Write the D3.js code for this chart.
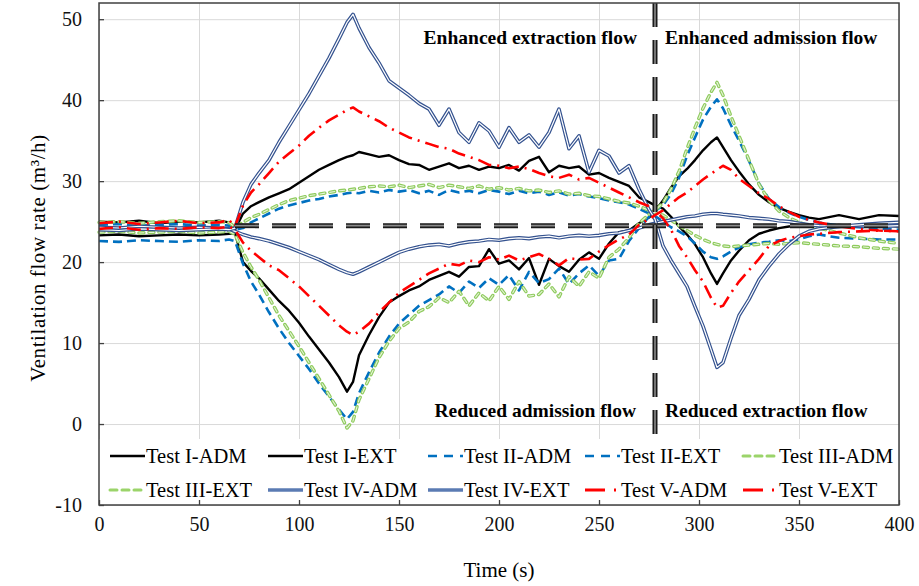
<!DOCTYPE html>
<html>
<head>
  <meta charset="utf-8">
  <script src="https://cdn.jsdelivr.net/npm/d3@7/dist/d3.min.js"></script>
  <style>
    body { margin: 0; background: #fff; }
    svg { display: block; font-family: "Liberation Serif", "Times New Roman", serif; }
  </style>
</head>
<body>
  <svg id="chart" width="919" height="586"></svg>

  <script>
  // sample times (s), shared by every series
  const time = [
    0, 10, 20, 30, 40, 50, 60, 65,
    68, 72, 76, 80, 85, 90, 95, 100, 105, 110, 115, 120, 124, 127, 130,
    135, 140, 145, 150, 155, 160, 165, 170, 175, 180, 185, 190, 195, 200, 205,
    210, 215, 220, 225, 230, 235, 240, 245, 250, 255, 260, 265, 270, 275, 278,
    282, 286, 290, 294, 298, 302, 306, 309, 312, 316, 320, 325, 330, 335, 340,
    345, 350, 355, 360, 370, 380, 390, 400
  ];

  const testIAdm = [
    23.3, 23.4, 23.2, 23.3, 23.4, 23.3, 23.4, 23.5,
    23.6, 20.0, 18.9, 18.0, 16.6, 15.2, 14.0, 12.5, 10.8, 9.2, 7.6, 5.8, 4.0, 5.2, 8.5,
    11.0, 13.2, 15.0, 15.8, 16.5, 17.0, 17.8, 18.3, 18.8, 18.2, 19.4, 19.5, 21.6, 19.8, 20.2,
    19.1, 20.5, 17.2, 20.4, 19.5, 18.8, 20.3, 21.2, 20.4, 22.3, 23.7, 23.9, 24.8, 25.5, 26.3,
    27.6, 29.2, 30.6, 31.5, 32.6, 33.8, 34.8, 35.4, 34.2, 32.6, 31.2, 29.6, 28.3, 27.4, 26.7,
    26.2, 25.8, 25.5, 25.3, 25.8, 25.3, 25.8, 25.7
  ];
  const testIExt = [
    25.0, 24.9, 25.1, 24.8, 25.0, 24.9, 25.1, 24.9,
    24.0, 26.0, 26.9, 27.4, 28.0, 28.5, 29.0, 29.8, 30.6, 31.4, 32.0, 32.6, 33.0, 33.2, 33.6,
    33.3, 33.0, 33.2, 32.6, 32.1, 32.0, 31.4, 31.8, 32.2, 31.6, 31.9, 31.4, 31.8, 31.6, 32.0,
    31.3, 32.5, 33.0, 31.1, 31.9, 31.6, 31.8, 30.8, 31.0, 30.4, 29.9, 29.4, 28.0, 27.4, 27.0,
    26.6, 25.6, 24.4, 23.4, 22.2, 20.6, 18.6, 17.3, 18.6, 20.2, 21.4, 22.7, 23.5, 23.9, 24.2,
    24.4, 24.5, 24.4, 24.5, 24.6, 24.4, 24.6, 24.4
  ];
  const testIIAdm = [
    22.6, 22.5, 22.7, 22.6, 22.5, 22.7, 22.6, 22.8,
    22.6, 19.8, 17.6, 16.0, 13.8, 11.8, 10.0, 8.4, 6.8, 5.0, 3.4, 1.8, 0.6, 1.5, 3.8,
    6.4, 8.8, 10.8, 12.4, 13.5, 14.6, 15.3, 16.0, 17.0, 16.2, 17.6, 16.8, 18.0, 17.2, 18.4,
    16.5, 18.8, 17.4, 17.9, 19.2, 17.3, 18.6, 19.6, 18.3, 20.2, 20.4, 22.6, 24.2, 25.6, 26.3,
    27.0, 28.4, 30.4, 33.1, 35.4, 37.6, 39.2, 40.1, 39.0, 36.9, 35.0, 32.5, 29.7, 27.8, 26.8,
    26.1, 25.6, 25.2, 24.9, 24.5, 24.3, 24.1, 24.0
  ];
  const testIIExt = [
    24.6, 24.7, 24.5, 24.6, 24.7, 24.5, 24.6, 24.5,
    24.0, 24.2, 24.9, 25.4, 26.0, 26.6, 27.0, 27.3, 27.6, 27.8, 28.1, 28.3, 28.5, 28.6, 28.5,
    28.8, 28.6, 28.9, 28.7, 28.9, 28.5, 28.8, 28.3, 28.9, 28.6, 28.8, 28.5, 28.9, 28.7, 28.4,
    28.8, 28.5, 28.7, 28.3, 28.6, 28.2, 28.4, 28.1, 27.9, 27.6, 27.4, 27.1, 26.6, 26.0, 25.7,
    25.0, 24.3, 23.8, 23.2, 22.3, 21.3, 20.6, 20.4, 20.7, 21.3, 21.8, 22.2, 22.4, 22.5, 22.7,
    22.6, 22.8, 23.2, 23.4, 23.0, 22.9, 22.8, 22.8
  ];
  const testIIIAdm = [
    23.7, 23.8, 23.6, 23.7, 23.8, 23.6, 23.7, 23.8,
    23.4, 21.2, 19.4, 17.8, 15.6, 13.4, 11.5, 9.6, 7.6, 5.6, 3.6, 1.6, -0.5, 0.4, 3.0,
    5.6, 8.2, 10.2, 11.8, 12.6, 13.9, 14.5, 15.6, 15.0, 16.4, 14.6, 16.2, 15.2, 17.0, 15.4,
    17.6, 15.8, 16.0, 17.3, 15.7, 18.2, 17.0, 18.8, 18.0, 20.6, 21.6, 23.0, 24.8, 25.9, 26.4,
    27.3, 29.0, 31.2, 34.0, 36.6, 39.0, 41.0, 42.2, 40.6, 38.0, 35.6, 32.6, 29.6, 27.6, 26.3,
    25.5, 24.9, 24.5, 24.2, 23.6, 23.0, 22.6, 22.3
  ];
  const testIIIExt = [
    24.9, 25.0, 24.8, 25.0, 25.1, 24.9, 25.0, 24.9,
    24.3, 24.9, 25.5, 25.9, 26.5, 27.1, 27.6, 27.9, 28.2, 28.4, 28.6, 28.8, 28.9, 29.0, 29.1,
    29.3, 29.4, 29.3, 29.5, 29.2, 29.4, 29.6, 29.2, 29.5, 29.3, 29.1, 29.4, 29.0, 29.2, 28.9,
    29.1, 28.8, 28.9, 28.6, 28.8, 28.4, 28.5, 28.2, 28.1, 27.8, 27.5, 27.3, 26.9, 26.4, 26.1,
    25.8, 25.2, 24.5, 23.9, 23.3, 22.8, 22.4, 22.2, 22.0, 21.9, 22.0, 22.1, 22.2, 22.3, 22.2,
    22.3, 22.4, 22.3, 22.2, 22.0, 21.9, 21.7, 21.6
  ];
  const testIVAdm = [
    24.3, 24.2, 24.4, 24.3, 24.2, 24.3, 24.2, 24.1,
    23.8, 23.4, 23.1, 22.9, 22.6, 22.2, 21.8, 21.3, 20.8, 20.3, 19.7, 19.1, 18.7, 18.5, 18.8,
    19.4, 20.0, 20.6, 21.2, 21.6, 21.9, 22.1, 22.2, 22.0, 22.3, 22.5, 22.6, 22.8, 22.7, 22.9,
    23.0, 22.9, 23.1, 23.2, 23.0, 23.2, 23.3, 23.2, 23.3, 23.5, 23.6, 23.9, 24.2, 24.6, 24.8,
    25.0, 25.2, 25.4, 25.6, 25.7, 25.9, 26.0, 26.0, 25.9, 25.8, 25.7, 25.5, 25.4, 25.3, 25.1,
    25.0, 24.8, 24.6, 24.5, 24.4, 24.5, 24.4, 24.5
  ];
  const testIVExt = [
    24.0, 23.9, 24.1, 24.0, 23.9, 24.0, 24.1, 24.0,
    24.2, 27.4, 29.6, 31.0, 32.6, 34.8, 36.8, 38.8, 40.8, 43.0, 45.2, 47.6, 49.6, 50.6, 48.9,
    46.5, 44.6, 42.4, 41.5, 40.6, 39.6, 38.9, 36.9, 38.9, 36.0, 34.8, 37.2, 36.2, 34.2, 36.6,
    34.8, 35.7, 34.2, 36.0, 38.9, 34.0, 35.6, 31.1, 33.8, 33.1, 31.0, 31.9, 29.0, 26.5, 25.3,
    22.0, 20.2, 18.6, 17.0, 14.5, 12.1, 9.2, 7.0, 7.6, 10.6, 13.4, 15.4, 17.8, 19.5, 21.0,
    22.2, 23.2, 23.8, 24.1, 24.4, 24.6, 24.8, 24.9
  ];
  const testVAdm = [
    24.1, 24.3, 24.0, 24.2, 24.1, 24.3, 24.2, 24.4,
    24.0, 22.4, 21.4, 20.6, 19.6, 19.0, 18.0, 17.0, 15.8, 14.6, 13.4, 12.2, 11.4, 11.0, 11.4,
    12.4, 13.8, 15.0, 16.2, 17.0, 17.8, 18.6, 19.2, 19.8, 19.6, 20.2, 20.0, 20.6, 20.3, 20.8,
    20.2, 20.6, 21.0, 20.4, 19.6, 20.5, 20.3, 20.4, 21.3, 22.1, 22.8, 23.4, 24.6, 25.3, 25.8,
    26.4, 27.2, 28.0, 28.6, 29.4, 30.2, 30.9, 31.4, 31.9, 31.4, 30.3, 29.4, 28.5, 27.8, 26.9,
    26.2, 25.6, 25.2, 24.9, 24.4, 24.1, 23.9, 23.8
  ];
  const testVExt = [
    24.8, 25.0, 24.7, 24.9, 25.1, 24.8, 24.9, 25.2,
    24.4, 27.0, 28.6, 29.6, 31.0, 32.4, 33.4, 34.4, 35.6, 36.6, 37.5, 38.2, 38.8, 39.1, 38.6,
    38.0, 37.4, 36.6, 36.0, 35.4, 35.0, 34.6, 34.2, 34.0, 33.4, 33.0, 32.6, 32.0, 31.9, 31.6,
    31.8, 31.5, 31.0, 30.6, 30.4, 30.8, 30.2, 30.4, 29.8, 29.2, 28.6, 28.0, 27.4, 26.9, 26.4,
    25.4, 24.0, 22.0, 20.6, 19.0, 17.6, 15.6, 14.4, 14.6, 16.2, 17.6, 19.0, 20.4, 22.0, 22.6,
    23.0, 23.2, 23.4, 23.5, 23.7, 23.8, 23.9, 23.8
  ];

  const xTicks = [0, 50, 100, 150, 200, 250, 300, 350, 400];
  const yTicks = [-10, 0, 10, 20, 30, 40, 50];

  // reference lines: set-point flow and the moment the fans were switched
  const setPoint = 24.5;
  const setPointStart = 68;
  const switchTime = 278;

  const series = [
    { name: 'Test I-ADM', test: 'I', values: testIAdm },
    { name: 'Test I-EXT', test: 'I', values: testIExt },
    { name: 'Test II-ADM', test: 'II', values: testIIAdm },
    { name: 'Test II-EXT', test: 'II', values: testIIExt },
    { name: 'Test III-ADM', test: 'III', values: testIIIAdm },
    { name: 'Test III-EXT', test: 'III', values: testIIIExt },
    { name: 'Test IV-ADM', test: 'IV', values: testIVAdm },
    { name: 'Test IV-EXT', test: 'IV', values: testIVExt },
    { name: 'Test V-ADM', test: 'V', values: testVAdm },
    { name: 'Test V-EXT', test: 'V', values: testVExt }
  ];

  // each test is drawn as one or more stacked strokes
  const styles = {
    I:   [{ stroke: '#000', width: 2.4 }],
    II:  [{ stroke: '#0070C0', width: 2.6, dash: '9,5' }],
    III: [{ stroke: '#8FCB5E', width: 3.4, dash: '5,5', cap: 'round' },
          { stroke: '#E6F4D8', width: 1.1, dash: '5,5', cap: 'round' }],
    IV:  [{ stroke: '#34528F', width: 3.6 },
          { stroke: '#fff', width: 1.2 }],
    V:   [{ stroke: '#FF0000', width: 2.6, dash: '14,6,2,6' }]
  };
  const legendStyles = {
    I:   [{ stroke: '#000', width: 2.4 }],
    II:  [{ stroke: '#0070C0', width: 2.6, dash: '9,7' }],
    III: [{ stroke: '#9BD46A', width: 3, dash: '7,5', cap: 'round' }],
    IV:  [{ stroke: '#5B7BB3', width: 3.4 }],
    V:   [{ stroke: '#FF0000', width: 2.8, dash: '20,9,2,9' }]
  };

  const svg = d3.select('#chart');
  const x = d3.scaleLinear().domain([0, 400]).range([99, 899]);
  const y = d3.scaleLinear().domain([-10, 52]).range([505, 3]);

  // gridlines
  svg.append('g')
    .attr('transform', `translate(0,${y(-10)})`)
    .call(d3.axisBottom(x).tickValues(xTicks).tickSize(-(y(-10) - y(52))).tickFormat(''))
    .call(g => g.select('.domain').remove())
    .selectAll('line').attr('stroke', '#d9d9d9');
  svg.append('g')
    .attr('transform', `translate(${x(0)},0)`)
    .call(d3.axisLeft(y).tickValues(yTicks).tickSize(-(x(400) - x(0))).tickFormat(''))
    .call(g => g.select('.domain').remove())
    .selectAll('line').attr('stroke', '#d9d9d9');

  function strokePath(g, data, line, layers) {
    layers.forEach(l => {
      g.append('path')
        .datum(data)
        .attr('d', line)
        .attr('fill', 'none')
        .attr('stroke', l.stroke)
        .attr('stroke-width', l.width)
        .attr('stroke-dasharray', l.dash || null)
        .attr('stroke-linecap', l.cap || 'butt')
        .attr('stroke-linejoin', 'round');
    });
  }

  const plot = svg.append('g');
  const line = d3.line()
    .x((d, i) => x(time[i]))
    .y(d => y(d));

  series.forEach(s => strokePath(plot, s.values, line, styles[s.test]));

  // dashed reference lines
  const refLayers = [
    { stroke: '#1a1a1a', width: 5, dash: '24,13' },
    { stroke: '#8a8a8a', width: 1.6, dash: '24,13' }
  ];
  const xy = d3.line().x(d => x(d[0])).y(d => y(d[1]));
  strokePath(plot, [[setPointStart, setPoint], [400, setPoint]], xy, refLayers);
  strokePath(plot, [[switchTime, 52], [switchTime, -10]], xy, refLayers);

  // region labels
  const notes = svg.append('g')
    .attr('font-weight', 'bold')
    .attr('font-size', 19.5);
  notes.append('text').attr('x', 637).attr('y', 44).attr('text-anchor', 'end').text('Enhanced extraction flow');
  notes.append('text').attr('x', 665).attr('y', 44).text('Enhanced admission flow');
  notes.append('text').attr('x', 636).attr('y', 417).attr('text-anchor', 'end').text('Reduced admission flow');
  notes.append('text').attr('x', 665).attr('y', 417).text('Reduced extraction flow');

  // legend, inside the plot at the bottom
  const legend = svg.append('g');
  legend.append('rect')
    .attr('x', x(0)).attr('y', 439)
    .attr('width', x(400) - x(0)).attr('height', y(-10) - 439)
    .attr('fill', '#fff');
  const colX = [110, 268, 428, 585, 743];
  const rowY = [456, 490];
  series.forEach((s, i) => {
    const cx = colX[i % 5];
    const cy = rowY[Math.floor(i / 5)];
    const item = legend.append('g');
    strokePath(item, [[cx, cy], [cx + 35, cy]], d3.line(), legendStyles[s.test]);
    item.append('text')
      .attr('x', cx + 36).attr('y', cy + 7)
      .attr('font-size', 20.5)
      .text(s.name);
  });

  // axes
  const xAxis = svg.append('g')
    .attr('transform', `translate(0,${y(-10)})`)
    .call(d3.axisBottom(x).tickValues(xTicks).tickSize(-5).tickPadding(12).tickFormat(d => String(d)));
  const yAxis = svg.append('g')
    .attr('transform', `translate(${x(0)},0)`)
    .call(d3.axisLeft(y).tickValues(yTicks).tickSize(-5).tickPadding(17).tickFormat(d => String(d)));
  [xAxis, yAxis].forEach(a => {
    a.select('.domain').remove();
    a.selectAll('line').attr('stroke', '#404040').attr('stroke-width', 1.3);
    a.selectAll('text').attr('font-size', 20).attr('fill', '#111')
      .attr('font-family', '"Liberation Serif", "Times New Roman", serif');
  });

  // plot frame
  svg.append('rect')
    .attr('x', x(0)).attr('y', y(52))
    .attr('width', x(400) - x(0)).attr('height', y(-10) - y(52))
    .attr('fill', 'none')
    .attr('stroke', '#404040')
    .attr('stroke-width', 1.5);

  // axis titles
  svg.append('text')
    .attr('x', (x(0) + x(400)) / 2).attr('y', 577)
    .attr('text-anchor', 'middle')
    .attr('font-size', 21)
    .text('Time (s)');
  svg.append('text')
    .attr('transform', `translate(45,258) rotate(-90)`)
    .attr('text-anchor', 'middle')
    .attr('font-size', 21)
    .attr('letter-spacing', 0.6)
    .text('Ventilation flow rate (m³/h)');
  </script>
</body>
</html>
